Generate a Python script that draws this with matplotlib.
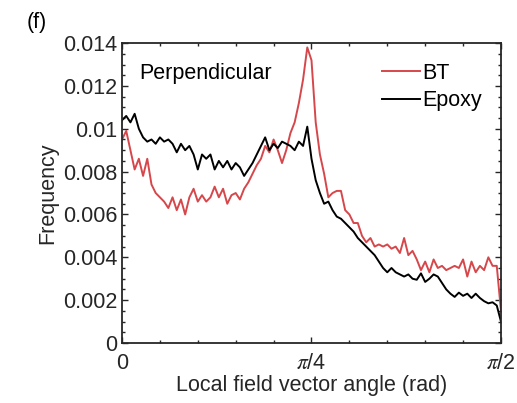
import numpy as np
import matplotlib
matplotlib.use('Agg')
import matplotlib.pyplot as plt
from matplotlib.ticker import MultipleLocator, FixedLocator, FuncFormatter

plt.rcParams['font.family'] = ['Liberation Sans', 'DejaVu Sans']
plt.rcParams['mathtext.fontset'] = 'stix'

# angle bins (degrees) and frequencies (x 1e-3)
angle_deg = np.arange(0, 91)
bt = [9.5, 9.9, 9.0, 8.1, 8.6, 7.8, 8.6, 7.4, 7.0, 6.8,
      6.6, 6.3, 6.8, 6.2, 6.7, 6.0, 6.8, 7.2, 6.6, 6.9,
      6.6, 6.8, 7.3, 6.8, 7.2, 6.5, 6.9, 7.0, 6.7, 7.2,
      7.5, 7.9, 8.3, 8.6, 9.2, 8.9, 9.5, 9.0, 8.4, 9.0,
      9.8, 10.3, 11.2, 12.3, 13.8, 13.2, 10.3, 8.8, 7.9, 6.8,
      7.0, 7.1, 7.1, 6.2, 6.0, 5.6, 5.6, 5.0, 4.7, 4.9,
      4.5, 4.6, 4.5, 4.6, 4.4, 4.5, 4.2, 4.9, 4.1, 4.3,
      3.9, 3.4, 3.8, 3.3, 3.9, 3.5, 3.6, 3.4, 3.5, 3.6,
      3.5, 3.9, 3.1, 3.8, 3.3, 3.6, 3.4, 4.0, 3.6, 3.6,
      1.5]
epoxy = [10.4, 10.6, 10.3, 10.7, 10.0, 9.6, 9.4, 9.5, 9.3, 9.6,
         9.4, 9.5, 9.3, 8.9, 9.3, 9.0, 9.2, 8.8, 8.1, 8.8,
         8.6, 8.8, 8.1, 8.5, 8.2, 8.5, 8.1, 8.4, 8.2, 7.8,
         8.1, 8.4, 8.8, 9.2, 9.6, 9.0, 9.3, 9.1, 9.4, 9.3,
         9.2, 9.0, 9.4, 9.2, 10.1, 8.6, 7.6, 7.0, 6.5, 6.6,
         6.2, 5.9, 5.8, 5.6, 5.4, 5.2, 4.9, 4.7, 4.5, 4.3,
         4.1, 3.8, 3.5, 3.3, 3.5, 3.3, 3.2, 3.1, 3.2, 3.0,
         2.95, 3.25, 2.85, 3.0, 3.2, 3.1, 2.8, 2.5, 2.3, 2.15,
         2.35, 2.2, 2.3, 2.1, 2.3, 2.1, 1.95, 1.85, 1.9, 1.75,
         1.0]

x = np.deg2rad(angle_deg)
bt = np.array(bt) * 1e-3
epoxy = np.array(epoxy) * 1e-3

fs = 15.5
fig = plt.figure(figsize=(5.17, 4.03), dpi=100)
ax = fig.add_axes([0.236, 0.149, 0.733, 0.744])

ax.plot(x, bt, color='#d6474b', lw=1.4, label='BT')
ax.plot(x, epoxy, color='black', lw=1.4, label='Epoxy')

ax.set_xlim(0, np.pi / 2)
ax.set_ylim(0, 0.014)
ax.xaxis.set_major_locator(FixedLocator([0, np.pi / 4, np.pi / 2]))
ax.xaxis.set_minor_locator(MultipleLocator(np.pi / 20))
ax.set_xticklabels(['0', r'$\pi$/4', r'$\pi$/2'])
ax.yaxis.set_major_locator(MultipleLocator(0.002))
ax.yaxis.set_minor_locator(MultipleLocator(0.0005))
ax.yaxis.set_major_formatter(FuncFormatter(lambda v, p: '0' if abs(v) < 1e-9 else ('%.3f' % v).rstrip('0')))

ax.tick_params(which='both', direction='in', top=True, right=True,
               labelsize=fs, colors='#262626', width=1)
ax.tick_params(which='major', length=4)
ax.tick_params(which='minor', length=2.5)
ax.tick_params(axis='x', which='major', pad=7)
for s in ax.spines.values():
    s.set_linewidth(1.3)
    s.set_color('#262626')

ax.set_xlabel('Local field vector angle (rad)', fontsize=fs, color='#262626', labelpad=1)
ax.set_ylabel('Frequency', fontsize=fs, color='#262626', labelpad=3)

ax.text(0.045, 0.9, 'Perpendicular', transform=ax.transAxes, fontsize=fs, va='center')
ax.legend(loc='upper right', frameon=False, fontsize=fs, handlelength=1.75,
          handletextpad=0.1, borderaxespad=0.6, labelspacing=0.3,
          bbox_to_anchor=(1.006, 1.006))

fig.text(0.052, 0.945, '(f)', fontsize=fs, va='center')

fig.savefig('out.png', dpi=100)
